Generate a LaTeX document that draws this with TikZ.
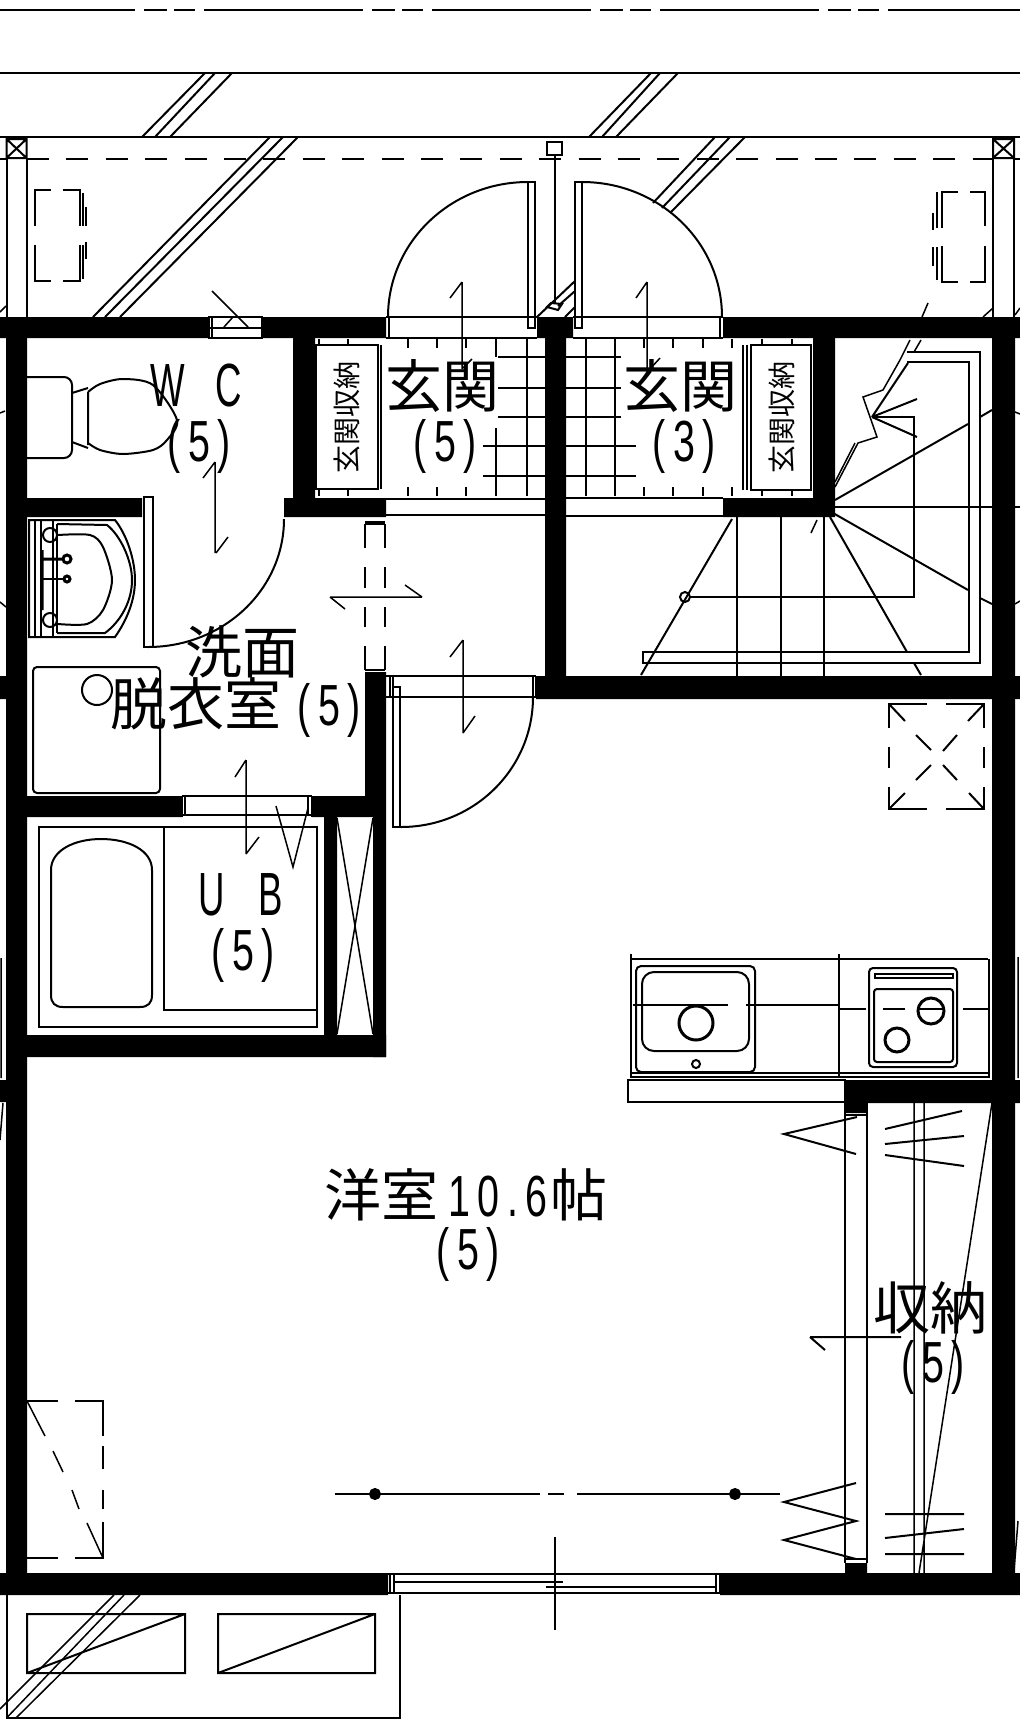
\documentclass[tikz,border=0pt]{standalone}
\usepackage{fontspec}
\usepackage{tikz}
\newfontfamily\jpfont{Noto Sans CJK JP}
\newfontfamily\latfont[FakeStretch=0.68,LetterSpace=13]{Liberation Sans}
\newfontfamily\capfont[FakeStretch=0.6]{Liberation Sans}
\newcommand{\numfont}{\latfont\fontsize{58}{58}\selectfont}
\tikzset{
  roomlabel/.style={inner sep=0pt,font=\jpfont\fontsize{57}{57}\selectfont},
  numlabel/.style={inner sep=0pt,font=\numfont},
  caplabel/.style={inner sep=0pt,font=\capfont\fontsize{61}{61}\selectfont},
  boxlabel/.style={inner sep=0pt,rotate=90,font=\jpfont\fontsize{28}{28}\selectfont},
  fineline/.style={line width=1.5pt},
  sideline/.style={line width=2.5pt}
}
\begin{document}
\begin{tikzpicture}[x=1pt,y=-1pt,line width=2pt]
\useasboundingbox (0,0) rectangle (1020,1733);

% road lines
\draw[line width=2.5pt,dash pattern=on 159pt off 9pt on 23pt off 7pt on 21pt off 9pt,dash phase=24pt] (0,10) -- (1020,10);
\draw (0,73) -- (1020,73);
\draw (0,137) -- (1020,137);
\draw[sideline,dash pattern=on 22pt off 17.4pt] (27,159) -- (993,159);
\draw[sideline] (0,159) -- (6,159) (1014,159) -- (1020,159);
\draw (142,137) -- (205,73) (155,137) -- (215,73) (170,137) -- (232,73);
\draw (589,137) -- (651,73) (602,137) -- (660,73) (616,137) -- (678,73);
\draw (93,317) -- (270,137) (105,317) -- (283,137) (120,317) -- (298,137);
\draw (715,137) -- (653,203) (730,137) -- (662,208) (745,137) -- (670,213);
\draw (537,317) -- (575,281) (558,306) -- (575,291) (565,317) -- (575,307);
\draw[fineline] (0,312) -- (6,306) (983,317) -- (993,308) (1015,315) -- (1020,308);

% posts
\draw (6.5,139) rectangle (26.5,158) (6.5,139) -- (26.5,158) (26.5,139) -- (6.5,158);
\draw (6.5,158) -- (6.5,317) (26.5,158) -- (26.5,317);
\draw (993,139) rectangle (1014,158) (993,139) -- (1014,158) (1014,139) -- (993,158);
\draw (993,158) -- (993,317) (1014,158) -- (1014,317);

% outdoor units
\draw (51,190) -- (35,190) -- (35,226) (35,245) -- (35,281) -- (51,281);
\draw (63,190) -- (80,190) -- (80,226) (80,245) -- (80,281) -- (63,281);
\draw (83,193) -- (83,226) (83,245) -- (83,279) (86,207) -- (86,226) (86,242) -- (86,259);
\draw (958,192) -- (942,192) -- (942,228) (942,246) -- (942,282) -- (958,282);
\draw (970,192) -- (985,192) -- (985,226) (985,246) -- (985,282) -- (970,282);
\draw (937,192) -- (937,228) (937,247) -- (937,280) (933,213) -- (933,230) (933,247) -- (933,266);

% entrance doors
\draw (555,156) -- (555,304);
\draw (547,142) rectangle (562,155);
\draw (547,307) -- (551,303) -- (562,304) -- (558,310) -- cycle;
\draw (528,182) rectangle (535,328);
\draw (575,182) rectangle (582,328);
\draw (528,182) .. controls (451,182) and (388,242) .. (388,317);
\draw (582,182) .. controls (659,182) and (722,242) .. (722,317);
\draw (386,317) -- (537,317) (573,317) -- (723,317) (386,338) -- (537,338) (573,338) -- (723,338);
\draw[fineline] (389,317) -- (389,338) (720,317) -- (720,338);
\draw[fineline] (462,282) -- (462,369) (462,282) -- (450,298) (463,368) -- (472,359);
\draw[fineline] (647,282) -- (647,369) (647,282) -- (636,298) (650,369) -- (660,358);
\draw[fineline] (928,303) -- (922,317);

% WC window
\draw (208,317) -- (263,317) (208,328) -- (263,328) (208,338) -- (263,338);
\draw (209,317) -- (209,338) (212,317) -- (212,338) (262,317) -- (262,338);
\draw[fineline] (212,291) -- (248,327) (224,327) -- (233,317);

% tiles
\draw[fineline] (408,339) -- (408,348) (437,339) -- (437,348) (466,339) -- (466,348) (496,339) -- (496,357) (527,339) -- (527,496);
\draw[fineline] (408,487) -- (408,496) (437,487) -- (437,496) (466,487) -- (466,496) (496,428) -- (496,496);
\draw (498,357) -- (545,357) (498,388) -- (545,388) (498,417) -- (545,417) (483,446) -- (545,446) (483,476) -- (545,476);
\draw[fineline] (586,339) -- (586,496) (615,339) -- (615,496);
\draw[fineline] (644,339) -- (644,348) (673,339) -- (673,348) (703,339) -- (703,348) (732,339) -- (732,348);
\draw[fineline] (644,487) -- (644,496) (673,487) -- (673,496) (703,487) -- (703,496) (732,487) -- (732,496);
\draw (566,357) -- (621,357) (566,388) -- (621,388) (566,417) -- (621,417) (566,446) -- (636,446) (566,476) -- (636,476);
\draw[fineline] (319,339) -- (319,345) (348,339) -- (348,345) (319,489) -- (319,496) (348,489) -- (348,496) (762,339) -- (762,345) (792,339) -- (792,345) (762,490) -- (762,496) (792,490) -- (792,496);

% shoe boxes
\draw (316,345) rectangle (378,489);
\draw (381,345) -- (381,489);
\draw (751,345) rectangle (811,490);
\draw (743,345) -- (743,490) (747,345) -- (747,490);

% toilet
\draw[rounded corners=8pt] (27,377) -- (72,377) -- (72,458) -- (27,458);
\draw (72,393) -- (88,388) (72,442) -- (88,448) (88,392) -- (88,445);
\draw plot[smooth] coordinates {(88,392) (100,384) (123,379) (153,385) (177,420) (167,440) (153,450) (123,454) (100,450) (88,443)};
\draw[fineline] (215,462) -- (215,553) (215,462) -- (203,478) (216,553) -- (228,537);

% hall
\draw (386,499) -- (545,499) (566,498) -- (723,498);
\draw (386,515) -- (545,515) (566,516) -- (723,516);
\draw (144,497) rectangle (153,647);
\draw (148,647) .. controls (223,647) and (284,590) .. (284,519);
\draw (365,522) -- (385,522) (365,524) -- (385,524);
\draw (365,524) -- (365,548) (385,524) -- (385,548) (365,567) -- (365,588) (385,567) -- (385,588);
\draw (365,607) -- (365,627) (385,607) -- (385,627) (365,646) -- (365,670) (385,646) -- (385,670) (365,670) -- (385,670);
\draw[fineline] (330,597) -- (422,597) (330,597) -- (345,609) (422,597) -- (405,585);
\draw (386,676) -- (536,676) (386,697) -- (536,697) (390,676) -- (390,697) (393,676) -- (393,697) (533,676) -- (533,697) (536,676) -- (536,697);
\draw (393,687) rectangle (400,827);
\draw (401,827) .. controls (474,827) and (533,769) .. (533,697);
\draw[fineline] (463,640) -- (463,733) (463,640) -- (450,657) (463,733) -- (475,716);

% vanity
\draw (29,520) -- (115,520) .. controls (127,535) and (135,560) .. (135,580) .. controls (135,600) and (127,620) .. (115,637) -- (29,637) -- cycle;
\draw (35,520) -- (35,637) (41,520) -- (41,637) (53,520) -- (53,637) (57,524) -- (57,633);
\draw (57,524) -- (107,525) .. controls (120,535) and (132,560) .. (132,580) .. controls (132,602) and (120,622) .. (105,633) -- (57,633);
\draw plot[smooth] coordinates {(58,535) (90,535) (103,547) (112,580) (103,610) (87,624) (58,624)};
\draw (50,535) circle (7pt) (50,620) circle (7pt);
\draw[line width=3pt] (67,559) circle (4pt) (67,579) circle (3pt) (40,559) -- (64,559) (42,550) -- (42,610);
\draw (41,579) -- (64,579);
\draw[rounded corners=4pt] (33,667) rectangle (160,793);
\draw (97,690) circle (15pt);

% bath
\draw (182,796) -- (312,796) (182,815) -- (312,815);
\draw (182,796) -- (182,817) (185,796) -- (185,815) (308,796) -- (308,815) (312,796) -- (312,817);
\draw (39,827) rectangle (317,1027);
\draw (164,827) -- (164,1010) -- (317,1010);
\draw (51,870) .. controls (51,850) and (75,839) .. (101,839) .. controls (128,839) and (152,850) .. (152,870) -- (152,995) .. controls (152,1003) and (148,1007) .. (140,1007) -- (63,1007) .. controls (55,1007) and (51,1003) .. (51,995) -- cycle;
\draw[fineline] (246,760) -- (246,854) (246,760) -- (235,777) (246,854) -- (259,837);
\draw[fineline] (276,806) -- (293,867) -- (308,808);
\draw[fineline] (337,818) -- (373,1034) (373,818) -- (337,1034);

% stairs
\draw (907,352) -- (980,352) -- (980,663) -- (643,663) -- (643,652) -- (969,652) -- (969,362) -- (907,362);
\draw (872,417) -- (914,417) -- (914,597) -- (690,597);
\draw (685,597) circle (5pt);
\draw[fineline] (900,360) -- (883,390) -- (863,397) -- (877,437) -- (858,443) -- (835,487);
\draw[fineline] (855,443) -- (835,482);
\draw (908,363) -- (872,417) (872,417) -- (917,399) (872,417) -- (917,437);
\draw[fineline] (910,340) -- (900,360) (921,340) -- (914,352);
\draw (835,500) -- (968,424) (980,417) -- (992,410);
\draw (835,507) -- (1020,507);
\draw (833,513) -- (968,590) (980,598) -- (992,604);
\draw (830,517) -- (907,652) (914,663) -- (921,675);
\draw (824,517) -- (824,676) (781,517) -- (781,676) (737,517) -- (737,676);
\draw (732,519) -- (641,675);
\draw[fineline] (817,520) -- (811,533);
\draw[fineline] (1015,412) -- (1020,414) (1015,604) -- (1020,601) (0,413) -- (5,411) (0,602) -- (6,607);

% hatch
\draw (889,728) -- (889,704) -- (927,704) (946,704) -- (984,704) -- (984,728);
\draw (889,787) -- (889,809) -- (927,809) (946,809) -- (984,809) -- (984,787);
\draw (889,747) -- (889,768) (984,747) -- (984,768);
\draw (889,704) -- (905,721) (916,735) -- (931,750) (943,765) -- (957,780) (969,793) -- (984,809);
\draw (984,704) -- (968,721) (957,735) -- (943,751) (931,765) -- (916,780) (905,793) -- (889,809);

% kitchen
\draw (630,959) -- (988,959) (630,1073) -- (988,1073) (630,1077) -- (988,1077);
\draw[sideline] (631,954) -- (631,1077) (989,959) -- (989,1078);
\draw (839,954) -- (839,1077);
\draw[rounded corners=5pt] (636,966) rectangle (755,1072);
\draw[rounded corners=12pt] (642,972) rectangle (749,1051);
\draw[line width=3pt] (696,1023) circle (17pt);
\draw (696,1064) circle (4pt);
\draw (633,1005) -- (728,1005) (746,1005) -- (839,1005);
\draw (840,1009) -- (866,1009) (883,1009) -- (905,1009) (920,1009) -- (943,1009) (963,1009) -- (988,1009);
\draw[rounded corners=4pt] (869,968) rectangle (957,1067);
\draw[rounded corners=3pt] (874,989) rectangle (953,1062);
\draw (875,974) rectangle (953,978);
\draw[line width=3pt] (931,1011) circle (13pt) (897,1040) circle (12pt);
\draw (628,1080) rectangle (845,1102);

% closet
\draw[fineline] (845,1103) -- (845,1563) (867,1103) -- (867,1563) (845,1115) -- (867,1115) (845,1559) -- (867,1559);
\draw[fineline] (914,1103) -- (914,1573) (924,1103) -- (924,1573) (992,1103) -- (919,1573);
\draw (857,1117) -- (784,1134) -- (856,1154);
\draw (856,1483) -- (784,1502) -- (856,1521) -- (784,1540) -- (856,1559);
\draw (885,1129) -- (962,1111) (885,1144) -- (964,1136) (885,1155) -- (964,1166);
\draw (885,1514) -- (964,1514) (885,1538) -- (964,1529) (885,1554) -- (964,1554);
\draw (810,1337) -- (901,1337) (810,1337) -- (825,1350);
\draw[fineline] (1,958) -- (1,1078) (1018,957) -- (1018,1078) (0,1140) -- (3,1103) (1014,1571) -- (1018,1521);

% room
\draw (27,1401) -- (58,1401) (75,1401) -- (103,1401) -- (103,1436) (103,1446) -- (103,1469) (103,1490) -- (103,1509) (103,1522) -- (103,1558) -- (75,1558) (58,1558) -- (27,1558);
\draw[fineline] (27,1401) -- (45,1436) (53,1451) -- (63,1472) (72,1490) -- (79,1509) (87,1523) -- (103,1558);
\draw (335,1494) -- (540,1494) (548,1494) -- (564,1494) (577,1494) -- (780,1494);
\draw[fill=black] (375,1494) circle (5pt) (735,1494) circle (5pt);
\draw[fineline] (555,1537) -- (555,1630);

% window
\draw (388,1574) -- (720,1574) (388,1593) -- (720,1593);
\draw (394,1582) -- (563,1582) (546,1587) -- (716,1587);
\draw (390,1574) -- (390,1593) (394,1574) -- (394,1593) (716,1574) -- (716,1593) (720,1574) -- (720,1593);

% balcony
\draw (6.5,1595) -- (6.5,1718) -- (400,1718) -- (400,1595);
\draw (27,1614) rectangle (185,1673) (27,1673) -- (185,1614);
\draw (218,1614) rectangle (375,1673) (218,1673) -- (375,1614);
\draw[fineline] (114,1595) -- (0,1709) (124,1595) -- (6.5,1718) (140,1595) -- (16,1718);

% walls
\fill (0,317) rectangle (208,338) (263,317) rectangle (386,338) (537,317) rectangle (573,338) (723,317) rectangle (1020,338);
\fill (6,338) rectangle (27,1573) (992,338) rectangle (1015,1573);
\fill (293,338) rectangle (315,498) (813,338) rectangle (835,498) (545,338) rectangle (566,676);
\fill (27,498) rectangle (142,517) (284,498) rectangle (386,517) (723,498) rectangle (835,517);
\fill (536,676) rectangle (992,699) (0,676) rectangle (6,699) (1015,676) rectangle (1020,699);
\fill (365,672) rectangle (386,796) (373,796) rectangle (386,1057);
\fill (6,796) rectangle (182,817) (312,796) rectangle (373,817) (324,817) rectangle (337,1035) (27,1035) rectangle (386,1057);
\fill (845,1080) rectangle (1020,1103) (845,1103) rectangle (867,1113) (845,1563) rectangle (867,1573) (0,1080) rectangle (6,1102);
\fill (0,1573) rectangle (388,1595) (720,1573) rectangle (1020,1595);

% labels
\node[caplabel] (wc) at (196,385) {W\hspace{30pt}C};
\node[numlabel] (wcnum) at (199,446) {(5)};
\node[boxlabel] (boxl) at (347,417) {玄関収納};
\node[boxlabel] (boxr) at (782,417) {玄関収納};
\node[roomlabel] (genl) at (442,386) {玄関};
\node[numlabel] (genlnum) at (445,446) {(5)};
\node[roomlabel] (genr) at (680,386) {玄関};
\node[numlabel] (genrnum) at (684,446) {(3)};
\node[roomlabel] (wash) at (242,652) {洗面};
\node[roomlabel] (dress) at (236,708) {脱衣室\hspace{16pt}{\numfont (5)}};
\node[caplabel] (ub) at (241,895) {U\hspace{34pt}B};
\node[numlabel] (ubnum) at (243,955) {(5)};
\node[roomlabel] (room) at (466,1195) {洋室\hspace{10pt}{\numfont 10.6}\hspace{3pt}帖};
\node[numlabel] (roomnum) at (468,1254) {(5)};
\node[roomlabel] (closet) at (930,1308) {収納};
\node[numlabel] (closetnum) at (933,1367) {(5)};
\end{tikzpicture}
\end{document}
